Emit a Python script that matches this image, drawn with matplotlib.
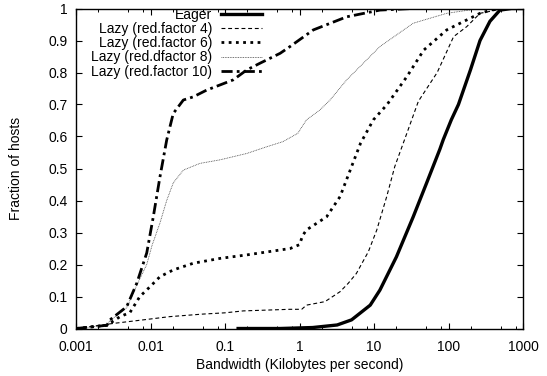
import numpy as np
import matplotlib
matplotlib.use('Agg')
import matplotlib.pyplot as plt
from matplotlib.ticker import LogLocator, NullFormatter

plt.rcParams['font.family'] = ['Liberation Sans', 'DejaVu Sans']
plt.rcParams['font.size'] = 10

# CDF points (bandwidth in KB/s, fraction of hosts)
eager_x = [0.15, 0.55, 1.5, 3.2, 5.0, 8.9, 12, 20, 33.6, 50.7, 76.5, 85, 109, 136, 197, 265, 360, 490, 700, 1000]
eager_y = [0, 0, 0.003, 0.011, 0.027, 0.073, 0.12, 0.224, 0.349, 0.454, 0.56, 0.59, 0.652, 0.70, 0.808, 0.90, 0.96, 0.995, 1.0, 1.0]

f4_x = [0.001, 0.0032, 0.008, 0.018, 0.05, 0.1, 0.176, 0.745, 1.07, 1.24, 2.2, 3.5, 4.5, 5.8, 8.4, 10.9, 14.8, 19, 27.6, 39.4, 70.5, 117, 175, 265, 440, 600, 1000]
f4_y = [0.0, 0.016, 0.027, 0.037, 0.045, 0.049, 0.055, 0.06, 0.06, 0.073, 0.084, 0.115, 0.141, 0.172, 0.24, 0.308, 0.412, 0.506, 0.61, 0.71, 0.80, 0.912, 0.943, 0.985, 0.995, 1.0, 1.0]

f6_x = [0.001, 0.0026, 0.0039, 0.0053, 0.0072, 0.0098, 0.0134, 0.0202, 0.0376, 0.0855, 0.196, 0.44, 0.75, 1.0, 1.1, 1.24, 2.31, 3.5, 5.0, 6.6, 9.8, 15, 27.6, 46.5, 94.6, 265, 440, 1000]
f6_y = [0.0, 0.01, 0.037, 0.05, 0.1, 0.13, 0.162, 0.183, 0.204, 0.219, 0.23, 0.242, 0.25, 0.262, 0.29, 0.308, 0.349, 0.412, 0.506, 0.579, 0.652, 0.70, 0.787, 0.87, 0.933, 0.985, 1.0, 1.0]

f8_x = [0.001, 0.0026, 0.00286, 0.00479, 0.00653, 0.0089, 0.0105, 0.0134, 0.0165, 0.0202, 0.0276, 0.0461, 0.0855, 0.196, 0.364, 0.6, 0.95, 1.05, 1.24, 1.88, 2.57, 4.3, 12, 33.6, 94.6, 265, 1000]
f8_y = [0.0, 0.01, 0.025, 0.065, 0.135, 0.2, 0.26, 0.33, 0.40, 0.455, 0.495, 0.516, 0.527, 0.547, 0.568, 0.584, 0.61, 0.626, 0.652, 0.683, 0.714, 0.777, 0.881, 0.954, 0.985, 1.0, 1.0]

f10_x = [0.001, 0.0026, 0.00286, 0.00479, 0.00653, 0.0089, 0.0109, 0.0134, 0.0165, 0.0202, 0.0276, 0.0376, 0.0567, 0.129, 0.196, 0.295, 0.55, 0.745, 1.53, 4.3, 12, 33, 1000]
f10_y = [0.0, 0.01, 0.027, 0.068, 0.141, 0.236, 0.349, 0.474, 0.589, 0.672, 0.714, 0.724, 0.745, 0.777, 0.808, 0.829, 0.86, 0.881, 0.933, 0.974, 0.995, 1.0, 1.0]

fig = plt.figure(figsize=(5.47, 3.76), dpi=100)
ax = fig.add_axes([76/547, 1 - 328.5/376, 447/547, 320/376])

ax.plot(eager_x, eager_y, color='black', lw=2.4, label='Eager')
ax.plot(f4_x, f4_y, color='black', lw=0.8, dashes=(3.5, 2.5), label='Lazy (red.factor 4)')
ax.plot(f6_x, f6_y, color='black', lw=2.0, dashes=(1.0, 1.6), label='Lazy (red.factor 6)')
ax.plot(f8_x, f8_y, color='#444444', lw=0.6, dashes=(1, 1), label='Lazy (red.dfactor 8)')
ax.plot(f10_x, f10_y, color='black', lw=2.0, dashes=(4, 1.5, 1, 1.5), label='Lazy (red.factor 10)')

ax.set_xscale('log')
ax.set_xlim(0.001, 1000)
ax.set_ylim(0, 1)
ax.set_xticks([0.001, 0.01, 0.1, 1, 10, 100, 1000])
ax.set_xticklabels(['0.001', '0.01', '0.1', '1', '10', '100', '1000'])
ax.xaxis.set_minor_locator(LogLocator(base=10, subs=[2, 5, 8]))
ax.xaxis.set_minor_formatter(NullFormatter())
ax.set_yticks(np.arange(0, 1.01, 0.1))
ax.set_yticklabels(['0', '0.1', '0.2', '0.3', '0.4', '0.5', '0.6', '0.7', '0.8', '0.9', '1'])

ax.tick_params(which='both', direction='in', top=True, right=True, color='black')
ax.tick_params(which='major', length=4.5, width=0.8)
ax.tick_params(axis='x', which='major', pad=8)
ax.tick_params(axis='y', which='major', pad=6)
ax.tick_params(which='minor', length=2.5, width=0.7)
for s in ax.spines.values():
    s.set_linewidth(1.0)

ax.set_xlabel('Bandwidth (Kilobytes per second)', labelpad=3)
ax.set_ylabel('Fraction of hosts', labelpad=18)

ax.legend(loc='upper right', bbox_to_anchor=(0.437, 1.033), frameon=False,
          markerfirst=False, handlelength=2.9, handletextpad=0.65,
          labelspacing=0.02, borderpad=0.2, fontsize=10)

fig.savefig('out.png', dpi=100)
